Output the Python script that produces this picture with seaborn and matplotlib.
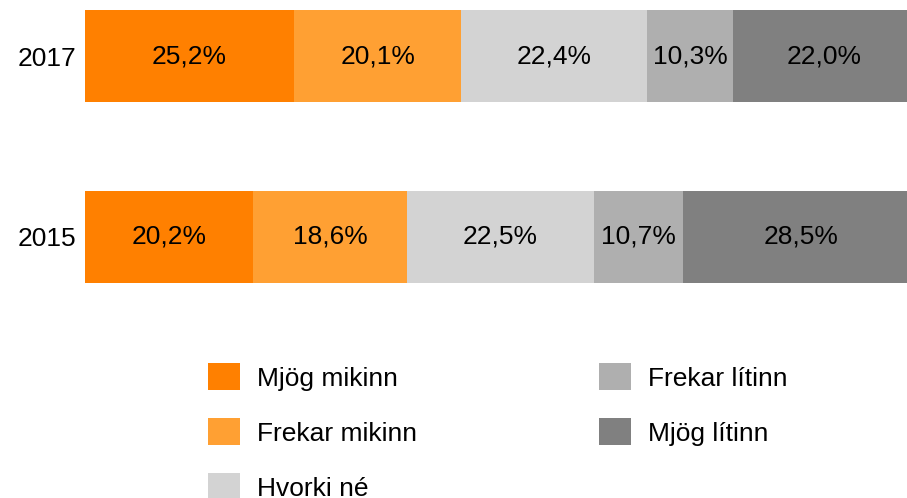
import matplotlib
matplotlib.use("Agg")
import matplotlib.pyplot as plt
from matplotlib.patches import Patch
import numpy as np
import pandas as pd
import seaborn as sns

years = ["2017", "2015"]
categories = ["Mjög mikinn", "Frekar mikinn", "Hvorki né", "Frekar lítinn", "Mjög lítinn"]
mjog_mikinn = [25.2, 20.2]
frekar_mikinn = [20.1, 18.6]
hvorki_ne = [22.4, 22.5]
frekar_litinn = [10.3, 10.7]
mjog_litinn = [22.0, 28.5]
colors = ["#FF8000", "#FFA033", "#D3D3D3", "#AFAFAF", "#808080"]

sns.set_theme(style="white")
plt.rcParams["font.family"] = ["Liberation Sans", "DejaVu Sans"]
plt.rcParams["text.color"] = "black"

series = [mjog_mikinn, frekar_mikinn, hvorki_ne, frekar_litinn, mjog_litinn]
values = np.array(series)            # shape (categories, years)
cum = np.cumsum(values, axis=0)

fig = plt.figure(figsize=(9.07, 4.98), dpi=100)
ax = fig.add_axes([85 / 907, 1 - 320 / 498, 1 - 85 / 907, 320 / 498])

# stacked bars: draw cumulative totals from the longest down so each segment shows
for i in range(len(categories) - 1, -1, -1):
    df = pd.DataFrame({"year": years, "value": cum[i]})
    sns.barplot(data=df, x="value", y="year", orient="h", color=colors[i],
                saturation=1, width=0.51, linewidth=0, ax=ax)

# value labels centred in each segment
for i in range(len(categories)):
    for j in range(len(years)):
        start = cum[i][j] - values[i][j]
        ax.text(start + values[i][j] / 2, j, f"{values[i][j]:.1f}%".replace(".", ","),
                ha="center", va="center", fontsize=19, color="black")

ax.set_xlim(0, 99.0)
ax.set_ylim(1.461, -0.31)
ax.set_xlabel("")
ax.set_ylabel("")
ax.set_xticks([])
ax.tick_params(axis="y", length=0, labelsize=19, pad=6, colors="black")
for s in ax.spines.values():
    s.set_visible(False)

handles = [Patch(facecolor=c, edgecolor="none") for c in colors]
leg = fig.legend(handles, categories, loc="upper left",
                 bbox_to_anchor=(195 / 907, 1 - 350 / 498),
                 ncol=2, frameon=False, fontsize=19, handlelength=1.2, handleheight=1.2,
                 handletextpad=0.65, columnspacing=6.9, labelspacing=1.05, borderpad=0)
for t in leg.get_texts():
    t.set_color("black")

fig.savefig("out.png", dpi=100)
